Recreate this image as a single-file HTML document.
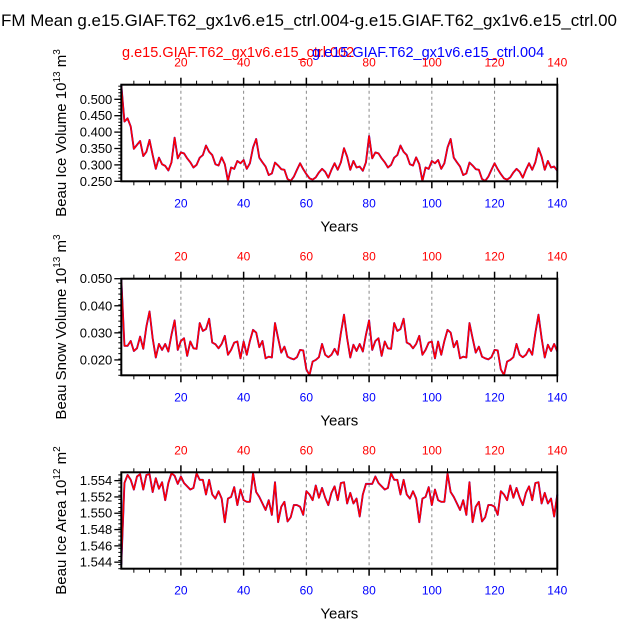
<!DOCTYPE html>
<html><head><meta charset="utf-8"><style>
html,body{margin:0;padding:0;background:#fff;}
svg{display:block;font-family:"Liberation Sans",Arial,sans-serif;}
</style></head><body>
<svg id="chart" width="618" height="619" viewBox="0 0 618 619">
<text x="309" y="26" text-anchor="middle" font-size="17" textLength="616" lengthAdjust="spacingAndGlyphs">FM Mean g.e15.GIAF.T62_gx1v6.e15_ctrl.004-g.e15.GIAF.T62_gx1v6.e15_ctrl.00</text>
<text x="122" y="57" font-size="14.5" fill="#ff0000">g.e15.GIAF.T62_gx1v6.e15_ctrl.002</text>
<text x="312" y="57" font-size="14.5" fill="#0000ff">g.e15.GIAF.T62_gx1v6.e15_ctrl.004</text>
<g id="plots"></g>
</svg>
<script>
const years = Array.from({length:140},(_, i)=>i+1);
const xTicks = [20,40,60,80,100,120,140];
const iceVolume = [.544,.432,.442,.417,.349,.361,.373,.327,.340,.376,
.330,.288,.322,.302,.297,.283,.308,.383,.320,.338,
.335,.320,.308,.292,.300,.322,.330,.359,.340,.330,
.302,.298,.323,.302,.251,.292,.288,.312,.305,.315,
.288,.305,.353,.379,.322,.308,.295,.269,.274,.307,
.298,.287,.285,.257,.251,.264,.285,.305,.287,.272,
.259,.255,.262,.277,.288,.279,.261,.285,.305,.285,
.308,.351,.325,.285,.312,.292,.295,.282,.308,.388,
.320,.338,.335,.320,.308,.292,.300,.322,.330,.359,
.340,.330,.302,.298,.323,.302,.251,.292,.288,.312,
.305,.315,.288,.305,.353,.379,.322,.308,.295,.269,
.274,.307,.298,.287,.285,.257,.251,.264,.285,.305,
.287,.272,.259,.255,.262,.277,.288,.279,.261,.285,
.305,.285,.308,.351,.325,.285,.312,.292,.295,.282];
const snowVolume = [.050,.0252,.0252,.0270,.0233,.0243,.0286,.0241,.0323,.0379,
.0280,.0209,.0259,.0237,.0259,.0231,.0293,.0346,.0237,.0270,
.0280,.0215,.0268,.0243,.0241,.0336,.0307,.0314,.0352,.0264,
.0258,.0243,.0259,.0289,.0219,.0237,.0264,.0268,.0206,.0268,
.0219,.0270,.0311,.0301,.0247,.0270,.0206,.0212,.0209,.0336,
.0280,.0227,.0249,.0212,.0206,.0202,.0210,.0237,.0235,.0165,
.0144,.0194,.0200,.0210,.0259,.0219,.0210,.0219,.0241,.0219,
.0299,.0367,.0280,.0209,.0256,.0233,.0259,.0231,.0293,.0346,
.0237,.0270,.0280,.0215,.0268,.0243,.0241,.0336,.0307,.0314,
.0352,.0264,.0258,.0243,.0259,.0289,.0219,.0237,.0264,.0268,
.0206,.0268,.0219,.0270,.0311,.0301,.0247,.0270,.0206,.0212,
.0209,.0336,.0280,.0227,.0249,.0212,.0206,.0202,.0210,.0237,
.0235,.0165,.0144,.0194,.0200,.0210,.0259,.0219,.0210,.0219,
.0241,.0219,.0299,.0367,.0280,.0209,.0256,.0233,.0259,.0231];
const iceArea = [1.5437,1.5537,1.5547,1.5541,1.5529,1.5545,1.5548,1.5529,1.5547,1.5548,
1.5526,1.5543,1.5530,1.5538,1.5516,1.5537,1.5549,1.5546,1.5536,1.5545,
1.5537,1.5533,1.5529,1.5531,1.5549,1.5541,1.5541,1.5523,1.5541,1.5523,
1.5518,1.5527,1.5518,1.5489,1.5518,1.5520,1.5532,1.5510,1.5529,1.5516,
1.5514,1.5514,1.5549,1.5526,1.5520,1.5512,1.5504,1.5516,1.5498,1.5538,
1.5489,1.5508,1.5514,1.5490,1.5495,1.5510,1.5510,1.5508,1.5498,1.5527,
1.5523,1.5516,1.5534,1.5519,1.5531,1.5519,1.5510,1.5525,1.5533,1.5516,
1.5537,1.5538,1.5512,1.5525,1.5512,1.5518,1.5496,1.5523,1.5536,1.5536,
1.5536,1.5545,1.5537,1.5533,1.5529,1.5531,1.5549,1.5541,1.5541,1.5523,
1.5541,1.5523,1.5518,1.5527,1.5518,1.5489,1.5518,1.5520,1.5532,1.5510,
1.5529,1.5516,1.5514,1.5514,1.5549,1.5526,1.5520,1.5512,1.5504,1.5516,
1.5498,1.5538,1.5489,1.5508,1.5514,1.5490,1.5495,1.5510,1.5510,1.5508,
1.5498,1.5527,1.5523,1.5516,1.5534,1.5519,1.5531,1.5519,1.5510,1.5525,
1.5533,1.5516,1.5537,1.5538,1.5512,1.5525,1.5512,1.5518,1.5496,1.5523];
const iceVolumeTicks = ["0.250","0.300","0.350","0.400","0.450","0.500"];
const snowVolumeTicks = ["0.020","0.030","0.040","0.050"];
const iceAreaTicks = ["1.544","1.546","1.548","1.550","1.552","1.554"];

const NS="http://www.w3.org/2000/svg";
const root=document.getElementById('plots');
function mk(tag,attrs,parent){const e=document.createElementNS(NS,tag);for(const k in attrs)e.setAttribute(k,attrs[k]);(parent||root).appendChild(e);return e;}
const L=121.3,R=557.3;
function xs(v){return L+(v-1)/(139)*(R-L);}

function panel(key,top,bot,ymin,ymax,data,ticks,minorStep,title,sup,unitSup){
  const g=mk('g',{});
  
  
  const ys=v=>bot-(v-ymin)/(ymax-ymin)*(bot-top);
  xTicks.forEach(t=>{if(t<140){const l=mk('line',{x1:xs(t),x2:xs(t),y1:top,y2:bot,stroke:'#888','stroke-width':1,'stroke-dasharray':'3,3'},g);
    
    }});
  for(let t=5;t<=140;t+=5){const len=(t%20===0)?7:4;
    mk('line',{x1:xs(t),x2:xs(t),y1:top,y2:top-len,stroke:'#000','stroke-width':t%20===0?1.5:1},g);
    mk('line',{x1:xs(t),x2:xs(t),y1:bot,y2:bot+len,stroke:'#000','stroke-width':t%20===0?1.5:1},g);}
  for(let v=ymin;v<=ymax+1e-9;v+=minorStep){mk('line',{x1:L,x2:L-3,y1:ys(v),y2:ys(v),stroke:'#000','stroke-width':1},g);}
  ticks.forEach(s=>{const v=parseFloat(s);const y=ys(v);
    mk('line',{x1:L,x2:L-7,y1:y,y2:y,stroke:'#000','stroke-width':1.3},g);
    const t=mk('text',{x:L-9,y:y+4.5,'text-anchor':'end','font-size':13},g);t.textContent=s;
    
    });
  xTicks.forEach(v=>{
    const a=mk('text',{x:xs(v),y:top-18,'text-anchor':'middle','font-size':12,fill:'#ff0000'},g);a.textContent=v;
    
    
    const b=mk('text',{x:xs(v),y:bot+26,'text-anchor':'middle','font-size':12,fill:'#0000ff'},g);b.textContent=v;
    
    });
  const d=years.map((yr,i)=>(i?'L':'M')+xs(yr).toFixed(2)+','+ys(data[i]).toFixed(2)).join('');
  const pb=mk('path',{d:d,fill:'none',stroke:'#0000ff','stroke-width':1.9,'stroke-linejoin':'round'},g);
  
  
  const pr=mk('path',{d:d,fill:'none',stroke:'#ff0000','stroke-width':1.6,'stroke-linejoin':'round'},g);
  
  
  const fr=mk('rect',{x:L,y:top,width:R-L,height:bot-top,fill:'none',stroke:'#000','stroke-width':2},g);
  
  
  const xt=mk('text',{x:(L+R)/2,y:bot+50,'text-anchor':'middle','font-size':15},g);xt.textContent='Years';
  
  
  const yt=mk('text',{x:0,y:0,'text-anchor':'middle','font-size':15,transform:'translate(66,'+((top+bot)/2)+') rotate(-90)'},g);
  
  
  yt.appendChild(document.createTextNode(title+' 10'));
  const s1=mk('tspan',{dy:-6,'font-size':10},yt);s1.textContent=sup;
  const s2=mk('tspan',{dy:6},yt);s2.textContent=' m';
  const s3=mk('tspan',{dy:-6,'font-size':10},yt);s3.textContent=unitSup;
}
panel('ice-volume',84.7,181.3,0.25,0.5445,iceVolume,iceVolumeTicks,0.01,'Beau Ice Volume','13','3');
panel('snow-volume',278.7,375.3,0.01432,0.0500,snowVolume,snowVolumeTicks,0.002,'Beau Snow Volume','13','3');
panel('ice-area',472.3,568.7,1.5432,1.55502,iceArea,iceAreaTicks,0.0005,'Beau Ice Area','12','2');
</script>
</body></html>
